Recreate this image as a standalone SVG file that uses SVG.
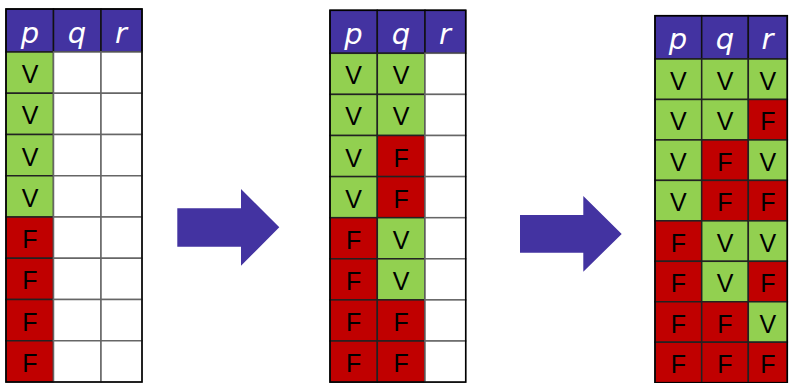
<svg xmlns="http://www.w3.org/2000/svg" width="791" height="383" viewBox="0 0 791 383">
<style>
.h{fill:#4333A1;stroke:#111;stroke-width:1.5}
.v{fill:#92D050;stroke:#222;stroke-width:1.5}
.f{fill:#C00000;stroke:#222;stroke-width:1.5}
.w{fill:#FFFFFF;stroke:#666;stroke-width:1.5}
.o{fill:none;stroke:#000;stroke-width:1.5}
.ht{fill:#FFFFFF;font-family:"DejaVu Sans",sans-serif;font-style:italic;font-size:29px;text-anchor:middle}
.ct{fill:#000;font-family:"Liberation Sans",Arial,sans-serif;font-size:25px;text-anchor:middle}
.arr{fill:#4333A1}
</style>
<rect width="791" height="383" fill="#FFFFFF"/>

<g id="table1">
<rect class="h" x="6" y="9" width="47.5" height="43"/>
<rect class="h" x="53.5" y="9" width="47.5" height="43"/>
<rect class="h" x="101" y="9" width="41" height="43"/>
<text class="ht" x="30" y="43">p</text>
<text class="ht" x="77" y="43">q</text>
<text class="ht" x="121" y="43">r</text>
<rect class="v" x="6" y="52" width="47.5" height="41.25"/>
<rect class="v" x="6" y="93.25" width="47.5" height="41.25"/>
<rect class="v" x="6" y="134.5" width="47.5" height="41.25"/>
<rect class="v" x="6" y="175.75" width="47.5" height="41.25"/>
<rect class="f" x="6" y="217" width="47.5" height="41.25"/>
<rect class="f" x="6" y="258.25" width="47.5" height="41.25"/>
<rect class="f" x="6" y="299.5" width="47.5" height="41.25"/>
<rect class="f" x="6" y="340.75" width="47.5" height="41.25"/>
<rect class="w" x="53.5" y="52" width="47.5" height="41.25"/>
<rect class="w" x="53.5" y="93.25" width="47.5" height="41.25"/>
<rect class="w" x="53.5" y="134.5" width="47.5" height="41.25"/>
<rect class="w" x="53.5" y="175.75" width="47.5" height="41.25"/>
<rect class="w" x="53.5" y="217" width="47.5" height="41.25"/>
<rect class="w" x="53.5" y="258.25" width="47.5" height="41.25"/>
<rect class="w" x="53.5" y="299.5" width="47.5" height="41.25"/>
<rect class="w" x="53.5" y="340.75" width="47.5" height="41.25"/>
<rect class="w" x="101" y="52" width="41" height="41.25"/>
<rect class="w" x="101" y="93.25" width="41" height="41.25"/>
<rect class="w" x="101" y="134.5" width="41" height="41.25"/>
<rect class="w" x="101" y="175.75" width="41" height="41.25"/>
<rect class="w" x="101" y="217" width="41" height="41.25"/>
<rect class="w" x="101" y="258.25" width="41" height="41.25"/>
<rect class="w" x="101" y="299.5" width="41" height="41.25"/>
<rect class="w" x="101" y="340.75" width="41" height="41.25"/>
<rect class="o" x="6" y="9" width="136" height="373"/>
<text class="ct" x="30" y="83">V</text>
<text class="ct" x="30" y="124.25">V</text>
<text class="ct" x="30" y="165.5">V</text>
<text class="ct" x="30" y="206.75">V</text>
<text class="ct" x="30" y="248">F</text>
<text class="ct" x="30" y="289.25">F</text>
<text class="ct" x="30" y="330.5">F</text>
<text class="ct" x="30" y="371.75">F</text>
</g>

<g id="table2">
<rect class="h" x="330" y="10.3" width="47.3" height="43"/>
<rect class="h" x="377.3" y="10.3" width="47.7" height="43"/>
<rect class="h" x="425" y="10.3" width="40.7" height="43"/>
<text class="ht" x="353.5" y="44">p</text>
<text class="ht" x="401" y="44">q</text>
<text class="ht" x="445" y="44">r</text>
<rect class="v" x="330" y="53.3" width="47.3" height="41.1"/>
<rect class="v" x="330" y="94.4" width="47.3" height="41.1"/>
<rect class="v" x="330" y="135.5" width="47.3" height="41.1"/>
<rect class="v" x="330" y="176.6" width="47.3" height="41.1"/>
<rect class="f" x="330" y="217.7" width="47.3" height="41.1"/>
<rect class="f" x="330" y="258.8" width="47.3" height="41.1"/>
<rect class="f" x="330" y="299.9" width="47.3" height="41.1"/>
<rect class="f" x="330" y="341" width="47.3" height="41.1"/>
<rect class="v" x="377.3" y="53.3" width="47.7" height="41.1"/>
<rect class="v" x="377.3" y="94.4" width="47.7" height="41.1"/>
<rect class="f" x="377.3" y="135.5" width="47.7" height="41.1"/>
<rect class="f" x="377.3" y="176.6" width="47.7" height="41.1"/>
<rect class="v" x="377.3" y="217.7" width="47.7" height="41.1"/>
<rect class="v" x="377.3" y="258.8" width="47.7" height="41.1"/>
<rect class="f" x="377.3" y="299.9" width="47.7" height="41.1"/>
<rect class="f" x="377.3" y="341" width="47.7" height="41.1"/>
<rect class="w" x="425" y="53.3" width="40.7" height="41.1"/>
<rect class="w" x="425" y="94.4" width="40.7" height="41.1"/>
<rect class="w" x="425" y="135.5" width="40.7" height="41.1"/>
<rect class="w" x="425" y="176.6" width="40.7" height="41.1"/>
<rect class="w" x="425" y="217.7" width="40.7" height="41.1"/>
<rect class="w" x="425" y="258.8" width="40.7" height="41.1"/>
<rect class="w" x="425" y="299.9" width="40.7" height="41.1"/>
<rect class="w" x="425" y="341" width="40.7" height="41.1"/>
<rect class="o" x="330" y="10.3" width="135.7" height="371.8"/>
<text class="ct" x="353.6" y="84.3">V</text>
<text class="ct" x="353.6" y="125.4">V</text>
<text class="ct" x="353.6" y="166.5">V</text>
<text class="ct" x="353.6" y="207.6">V</text>
<text class="ct" x="353.6" y="248.7">F</text>
<text class="ct" x="353.6" y="289.8">F</text>
<text class="ct" x="353.6" y="330.9">F</text>
<text class="ct" x="353.6" y="372">F</text>
<text class="ct" x="401.1" y="84.3">V</text>
<text class="ct" x="401.1" y="125.4">V</text>
<text class="ct" x="401.1" y="166.5">F</text>
<text class="ct" x="401.1" y="207.6">F</text>
<text class="ct" x="401.1" y="248.7">V</text>
<text class="ct" x="401.1" y="289.8">V</text>
<text class="ct" x="401.1" y="330.9">F</text>
<text class="ct" x="401.1" y="372">F</text>
</g>

<g id="table3">
<rect class="h" x="655" y="15.7" width="46.7" height="43.3"/>
<rect class="h" x="701.7" y="15.7" width="46.6" height="43.3"/>
<rect class="h" x="748.3" y="15.7" width="39" height="43.3"/>
<text class="ht" x="678" y="49">p</text>
<text class="ht" x="725" y="49">q</text>
<text class="ht" x="767.5" y="49">r</text>
<rect class="v" x="655" y="59" width="46.7" height="40.46"/>
<rect class="v" x="655" y="99.46" width="46.7" height="40.46"/>
<rect class="v" x="655" y="139.92" width="46.7" height="40.46"/>
<rect class="v" x="655" y="180.38" width="46.7" height="40.46"/>
<rect class="f" x="655" y="220.84" width="46.7" height="40.46"/>
<rect class="f" x="655" y="261.3" width="46.7" height="40.46"/>
<rect class="f" x="655" y="301.76" width="46.7" height="40.46"/>
<rect class="f" x="655" y="342.22" width="46.7" height="40.46"/>
<rect class="v" x="701.7" y="59" width="46.6" height="40.46"/>
<rect class="v" x="701.7" y="99.46" width="46.6" height="40.46"/>
<rect class="f" x="701.7" y="139.92" width="46.6" height="40.46"/>
<rect class="f" x="701.7" y="180.38" width="46.6" height="40.46"/>
<rect class="v" x="701.7" y="220.84" width="46.6" height="40.46"/>
<rect class="v" x="701.7" y="261.3" width="46.6" height="40.46"/>
<rect class="f" x="701.7" y="301.76" width="46.6" height="40.46"/>
<rect class="f" x="701.7" y="342.22" width="46.6" height="40.46"/>
<rect class="v" x="748.3" y="59" width="39" height="40.46"/>
<rect class="f" x="748.3" y="99.46" width="39" height="40.46"/>
<rect class="v" x="748.3" y="139.92" width="39" height="40.46"/>
<rect class="f" x="748.3" y="180.38" width="39" height="40.46"/>
<rect class="v" x="748.3" y="220.84" width="39" height="40.46"/>
<rect class="f" x="748.3" y="261.3" width="39" height="40.46"/>
<rect class="v" x="748.3" y="301.76" width="39" height="40.46"/>
<rect class="f" x="748.3" y="342.22" width="39" height="40.46"/>
<rect class="o" x="655" y="15.7" width="132.3" height="366.98"/>
<text class="ct" x="678.3" y="90">V</text>
<text class="ct" x="678.3" y="130.46">V</text>
<text class="ct" x="678.3" y="170.92">V</text>
<text class="ct" x="678.3" y="211.38">V</text>
<text class="ct" x="678.3" y="251.84">F</text>
<text class="ct" x="678.3" y="292.3">F</text>
<text class="ct" x="678.3" y="332.76">F</text>
<text class="ct" x="678.3" y="373.22">F</text>
<text class="ct" x="725" y="90">V</text>
<text class="ct" x="725" y="130.46">V</text>
<text class="ct" x="725" y="170.92">F</text>
<text class="ct" x="725" y="211.38">F</text>
<text class="ct" x="725" y="251.84">V</text>
<text class="ct" x="725" y="292.3">V</text>
<text class="ct" x="725" y="332.76">F</text>
<text class="ct" x="725" y="373.22">F</text>
<text class="ct" x="767.8" y="90">V</text>
<text class="ct" x="767.8" y="130.46">F</text>
<text class="ct" x="767.8" y="170.92">V</text>
<text class="ct" x="767.8" y="211.38">F</text>
<text class="ct" x="767.8" y="251.84">V</text>
<text class="ct" x="767.8" y="292.3">F</text>
<text class="ct" x="767.8" y="332.76">V</text>
<text class="ct" x="767.8" y="373.22">F</text>
</g>

<g id="connectors">
<polygon class="arr" points="177.3,208.3 241,208.3 241,189 279.3,227.3 241,265.7 241,246.7 177.3,246.7"/>
<polygon class="arr" points="520,215 583.3,215 583.3,196 621.7,234 583.3,271.7 583.3,252.7 520,252.7"/>
</g>
</svg>
